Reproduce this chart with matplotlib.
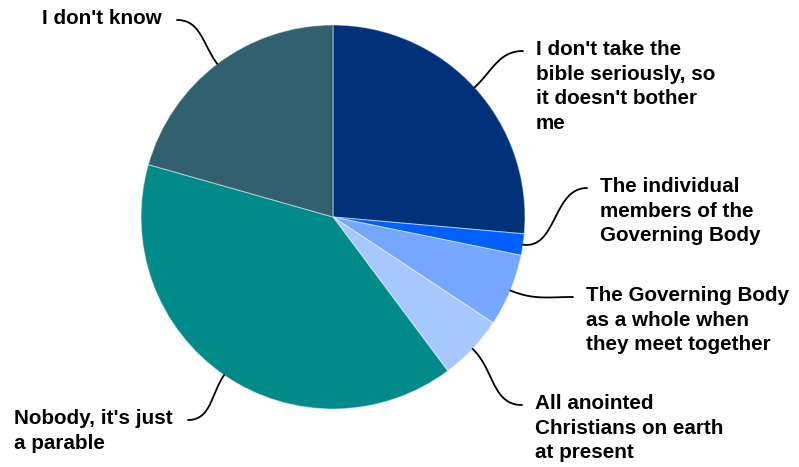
import matplotlib.pyplot as plt
import numpy as np

labels = ["I don't take the\nbible seriously, so\nit doesn't bother\nme",
          "The individual\nmembers of the\nGoverning Body",
          "The Governing Body\nas a whole when\nthey meet together",
          "All anointed\nChristians on earth\nat present",
          "Nobody, it's just\na parable",
          "I don't know"]
values = [26.4, 1.8, 6.1, 5.5, 39.6, 20.6]
colors = ['#003179', '#0060ff', '#76a7ff', '#a7c8ff', '#008a8a', '#31616e']

# label anchor (end of leader line) in pixels from top-left, and text side
label_pos = [(523, 51), (587, 188), (573, 297), (522, 405), (188, 420), (177, 20)]
label_side = ['right', 'right', 'right', 'right', 'left', 'left']

W, H = 799, 467
cx, cy, r = 333, H - 217, 192

fig = plt.figure(figsize=(W / 100, H / 100), dpi=100)
ax = fig.add_axes([0, 0, 1, 1])
wedges, _ = ax.pie(values, colors=colors, startangle=90, counterclock=False,
                   center=(cx, cy), radius=r,
                   wedgeprops=dict(edgecolor=(1, 1, 1, 0.45), linewidth=0.8))
ax.set_xlim(0, W)
ax.set_ylim(0, H)
ax.set_aspect('equal')
ax.axis('off')

for w, lab, (lx, ly), side in zip(wedges, labels, label_pos, label_side):
    ang = np.deg2rad((w.theta1 + w.theta2) / 2)
    p0 = np.array([cx + r * np.cos(ang), cy + r * np.sin(ang)])
    p3 = np.array([lx, H - ly], dtype=float)
    d = np.linalg.norm(p3 - p0)
    k = 0.4 * d
    sgn = 1 if side == 'right' else -1
    p1 = p0 + k * np.array([np.cos(ang), np.sin(ang)])
    p2 = p3 - np.array([sgn * k, 0])
    t = np.linspace(0, 1, 60)[:, None]
    pts = ((1 - t) ** 3) * p0 + 3 * ((1 - t) ** 2) * t * p1 + 3 * (1 - t) * t ** 2 * p2 + t ** 3 * p3
    ax.plot(pts[:, 0], pts[:, 1], color='black', lw=1.3, solid_capstyle='round')
    if side == 'right':
        ax.text(lx + 13, H - ly + 11, lab, ha='left', va='top', fontsize=14.9,
                fontweight='bold', family='Liberation Sans', linespacing=1.37)
    else:
        ax.text(lx - 15, H - ly + 11, lab, ha='right', va='top', fontsize=14.9,
                fontweight='bold', family='Liberation Sans', linespacing=1.37,
                multialignment='left')

fig.savefig('out.png', dpi=100)
